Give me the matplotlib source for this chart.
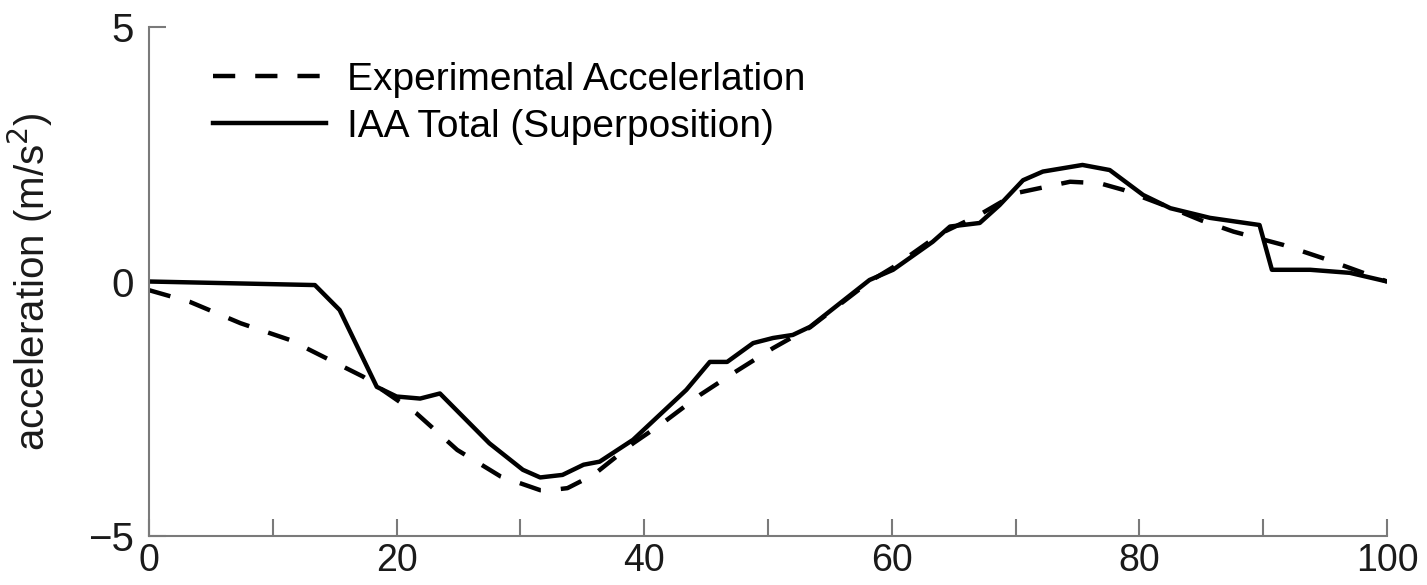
import matplotlib
matplotlib.use("Agg")
import matplotlib.pyplot as plt

plt.rcParams['font.family'] = ['Liberation Sans', 'DejaVu Sans']

# IAA total (superposition), solid line
iaa_x = [0, 13.4, 15.4, 18.4, 20.0, 21.9, 23.5, 27.5, 30.2, 31.6, 33.4, 35.1,
         36.4, 39.1, 43.4, 45.3, 46.7, 48.8, 50.4, 52.0, 53.4, 58.2, 60.1,
         63.3, 64.7, 67.1, 68.7, 70.6, 72.2, 75.4, 77.6, 80.3, 82.5, 85.7,
         89.7, 90.7, 93.8, 97.0, 100]
iaa_y = [0.0, -0.07, -0.56, -2.07, -2.26, -2.30, -2.20, -3.18, -3.70, -3.85,
         -3.80, -3.60, -3.54, -3.11, -2.13, -1.58, -1.58, -1.21, -1.11, -1.05,
         -0.89, 0.03, 0.23, 0.78, 1.08, 1.15, 1.50, 1.99, 2.16, 2.29, 2.19,
         1.70, 1.44, 1.25, 1.11, 0.23, 0.23, 0.17, 0.0]

# experimental acceleration, dashed line
exp_x = [0, 3.3, 7.4, 11.4, 14.1, 17.3, 21.6, 24.9, 28.4, 31.6, 32.4, 33.8,
         35.9, 39.1, 41.5, 44.5, 47.2, 50.4, 53.4, 58.2, 60.1, 64.0, 67.0,
         70.1, 74.4, 76.8, 78.7, 82.5, 85.0, 87.6, 91.6, 94.8, 100]
exp_y = [-0.17, -0.40, -0.82, -1.15, -1.48, -1.87, -2.59, -3.31, -3.83, -4.10,
         -4.10, -4.06, -3.80, -3.18, -2.78, -2.23, -1.80, -1.31, -0.90, 0.0,
         0.28, 0.95, 1.30, 1.74, 1.96, 1.93, 1.80, 1.45, 1.20, 0.98, 0.72,
         0.46, 0.0]

xticks = [0, 10, 20, 30, 40, 50, 60, 70, 80, 90, 100]
xticklabels = ['0', '', '20', '', '40', '', '60', '', '80', '', '100']
yticks = [-5, 0, 5]
yticklabels = ['\u22125', '0', '5']

fig = plt.figure(figsize=(14.27, 5.85), dpi=100)
ax = fig.add_axes([0.1044, 0.0838, 0.8676, 0.870])

ax.plot(exp_x, exp_y, color="black", lw=3.2, dashes=(5, 4.5),
        label="Experimental Accelerlation")
ax.plot(iaa_x, iaa_y, color="black", lw=3.2, label="IAA Total (Superposition)")

ax.set_xlim(0, 100)
ax.set_ylim(-5, 5)
ax.set_xticks(xticks)
ax.set_xticklabels(xticklabels)
ax.set_yticks(yticks)
ax.set_yticklabels(yticklabels)

for side in ["top", "right"]:
    ax.spines[side].set_visible(False)
for side in ["left", "bottom"]:
    ax.spines[side].set_color("#7a7a7a")
    ax.spines[side].set_linewidth(1.5)

ax.tick_params(direction="in", length=12, width=1.5, color="#7a7a7a",
               labelsize=29, labelcolor="#1a1a1a")
ax.tick_params(axis="x", labelsize=27, pad=5)
ax.tick_params(axis="y", pad=11)
ax.set_ylabel("acceleration (m/s$^2$)", fontsize=29, color="#1a1a1a")
ax.yaxis.set_label_coords(-0.076, 0.5)

ax.legend(loc="upper left", bbox_to_anchor=(0.039, 0.962), frameon=False,
          fontsize=28, handlelength=2.9, handletextpad=0.55, labelspacing=0.28,
          borderaxespad=0)

fig.savefig("out.png", dpi=100, facecolor="white")
plt.close(fig)
